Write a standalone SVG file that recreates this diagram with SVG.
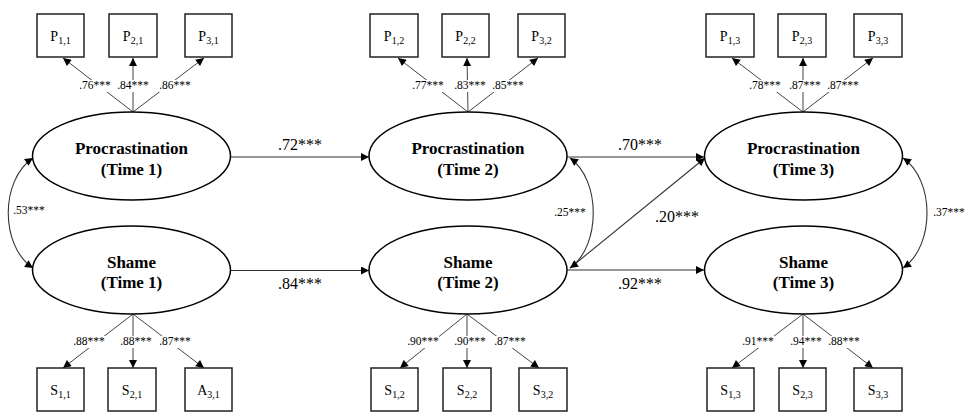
<svg xmlns="http://www.w3.org/2000/svg" width="965" height="412" viewBox="0 0 965 412" font-family="'Liberation Serif', 'Times New Roman', serif">
  <style>
    text { font-family: "Liberation Serif", "Times New Roman", serif; fill: #000; }
    .box { fill: #fff; stroke: #222; stroke-width: 1.5; }
    .ind { font-size: 14px; text-anchor: middle; }
    .sub { font-size: 10px; }
    .lat { fill: #fff; stroke: #000; stroke-width: 1.5; }
    .latt { font-size: 17px; font-weight: bold; text-anchor: middle; }
    .ld { stroke: #444; stroke-width: 1; fill: none; }
    .path { stroke: #333; stroke-width: 1.1; fill: none; }
    .bg { fill: #fff; }
    .sm { font-size: 11.5px; text-anchor: middle; }
    .big { font-size: 16px; text-anchor: middle; }
  </style>
  <defs>
    <marker id="ah" viewBox="0 0 10 10" refX="10" refY="5" markerWidth="9" markerHeight="8" markerUnits="userSpaceOnUse" orient="auto-start-reverse">
      <path d="M0,0 L10,5 L0,10 z" fill="#000"/>
    </marker>
  </defs>

  <!-- connectors: factor loadings, regressions, covariances -->
  <g id="connectors">
    <!-- loadings, time 1 -->
    <line class="ld" x1="133" y1="112" x2="63" y2="58" marker-end="url(#ah)"/>
    <line class="ld" x1="133" y1="112" x2="133" y2="58" marker-end="url(#ah)"/>
    <line class="ld" x1="133" y1="112" x2="204" y2="58" marker-end="url(#ah)"/>
    <line class="ld" x1="133" y1="314" x2="63" y2="368" marker-end="url(#ah)"/>
    <line class="ld" x1="133" y1="314" x2="133" y2="368" marker-end="url(#ah)"/>
    <line class="ld" x1="133" y1="314" x2="204" y2="368" marker-end="url(#ah)"/>
    <!-- loadings, time 2 -->
    <line class="ld" x1="468" y1="112" x2="398" y2="58" marker-end="url(#ah)"/>
    <line class="ld" x1="468" y1="112" x2="467" y2="58" marker-end="url(#ah)"/>
    <line class="ld" x1="468" y1="112" x2="538" y2="58" marker-end="url(#ah)"/>
    <line class="ld" x1="467" y1="314" x2="400" y2="368" marker-end="url(#ah)"/>
    <line class="ld" x1="467" y1="314" x2="467" y2="368" marker-end="url(#ah)"/>
    <line class="ld" x1="467" y1="314" x2="539" y2="368" marker-end="url(#ah)"/>
    <!-- loadings, time 3 -->
    <line class="ld" x1="803" y1="112" x2="732" y2="58" marker-end="url(#ah)"/>
    <line class="ld" x1="803" y1="112" x2="803" y2="58" marker-end="url(#ah)"/>
    <line class="ld" x1="803" y1="112" x2="873" y2="58" marker-end="url(#ah)"/>
    <line class="ld" x1="803" y1="314" x2="732" y2="368" marker-end="url(#ah)"/>
    <line class="ld" x1="803" y1="314" x2="803" y2="368" marker-end="url(#ah)"/>
    <line class="ld" x1="803" y1="314" x2="873" y2="368" marker-end="url(#ah)"/>

    <!-- structural paths -->
    <line class="path" x1="231" y1="157" x2="369" y2="157" marker-end="url(#ah)"/>
    <line class="path" x1="231" y1="270.5" x2="369" y2="270.5" marker-end="url(#ah)"/>
    <line class="path" x1="567" y1="157" x2="704" y2="157" marker-end="url(#ah)"/>
    <line class="path" x1="567" y1="270" x2="704" y2="270" marker-end="url(#ah)"/>
    <line class="path" x1="570" y1="268" x2="705" y2="158" marker-end="url(#ah)"/>

    <!-- covariances -->
    <path class="path" d="M33,158 C0,180 0,246 33,268" marker-start="url(#ah)" marker-end="url(#ah)"/>
    <path class="path" d="M570,158 C601,180 601,246 570,268" marker-start="url(#ah)" marker-end="url(#ah)"/>
    <path class="path" d="M903,158 C935,180 935,246 903,268" marker-start="url(#ah)" marker-end="url(#ah)"/>

    <!-- white backing behind loading labels -->
    <rect class="bg" x="79" y="80" width="32" height="12"/>
    <rect class="bg" x="117" y="80" width="32" height="12"/>
    <rect class="bg" x="159" y="80" width="32" height="12"/>
    <rect class="bg" x="412" y="80" width="32" height="12"/>
    <rect class="bg" x="454" y="80" width="32" height="12"/>
    <rect class="bg" x="492" y="80" width="32" height="12"/>
    <rect class="bg" x="749" y="80" width="32" height="12"/>
    <rect class="bg" x="789" y="80" width="32" height="12"/>
    <rect class="bg" x="827" y="80" width="32" height="12"/>
    <rect class="bg" x="73" y="336" width="32" height="12"/>
    <rect class="bg" x="120" y="336" width="32" height="12"/>
    <rect class="bg" x="159" y="336" width="32" height="12"/>
    <rect class="bg" x="407" y="336" width="32" height="12"/>
    <rect class="bg" x="454" y="336" width="32" height="12"/>
    <rect class="bg" x="494" y="336" width="32" height="12"/>
    <rect class="bg" x="742" y="336" width="32" height="12"/>
    <rect class="bg" x="790" y="336" width="32" height="12"/>
    <rect class="bg" x="828" y="336" width="32" height="12"/>

    <!-- coefficient labels -->
    <text class="sm" x="95" y="89">.76***</text>
    <text class="sm" x="133" y="89">.84***</text>
    <text class="sm" x="175" y="89">.86***</text>
    <text class="sm" x="428" y="89">.77***</text>
    <text class="sm" x="470" y="89">.83***</text>
    <text class="sm" x="508" y="89">.85***</text>
    <text class="sm" x="765" y="89">.78***</text>
    <text class="sm" x="805" y="89">.87***</text>
    <text class="sm" x="843" y="89">.87***</text>

    <text class="sm" x="89" y="345">.88***</text>
    <text class="sm" x="136" y="345">.88***</text>
    <text class="sm" x="175" y="345">.87***</text>
    <text class="sm" x="423" y="345">.90***</text>
    <text class="sm" x="470" y="345">.90***</text>
    <text class="sm" x="510" y="345">.87***</text>
    <text class="sm" x="758" y="345">.91***</text>
    <text class="sm" x="806" y="345">.94***</text>
    <text class="sm" x="844" y="345">.88***</text>

    <text class="sm" x="29" y="214">.53***</text>
    <text class="sm" x="570" y="216">.25***</text>
    <text class="sm" x="949" y="216">.37***</text>

    <text class="big" x="300" y="150">.72***</text>
    <text class="big" x="300" y="289">.84***</text>
    <text class="big" x="640" y="150">.70***</text>
    <text class="big" x="677" y="222">.20***</text>
    <text class="big" x="640" y="289">.92***</text>
  </g>

  <!-- latent variables -->
  <g id="proc1"><ellipse class="lat" cx="131.5" cy="156" rx="99" ry="44"/>
    <text class="latt" x="131.5" y="154">Procrastination</text><text class="latt" x="131.5" y="175">(Time 1)</text></g>
  <g id="proc2"><ellipse class="lat" cx="468" cy="156" rx="99" ry="44"/>
    <text class="latt" x="468" y="154">Procrastination</text><text class="latt" x="468" y="175">(Time 2)</text></g>
  <g id="proc3"><ellipse class="lat" cx="803.5" cy="156" rx="99" ry="44"/>
    <text class="latt" x="803.5" y="154">Procrastination</text><text class="latt" x="803.5" y="175">(Time 3)</text></g>
  <g id="shame1"><ellipse class="lat" cx="131.5" cy="270" rx="99" ry="44"/>
    <text class="latt" x="131.5" y="268">Shame</text><text class="latt" x="131.5" y="288">(Time 1)</text></g>
  <g id="shame2"><ellipse class="lat" cx="468" cy="270" rx="99" ry="44"/>
    <text class="latt" x="468" y="268">Shame</text><text class="latt" x="468" y="288">(Time 2)</text></g>
  <g id="shame3"><ellipse class="lat" cx="803.5" cy="270" rx="99" ry="44"/>
    <text class="latt" x="803.5" y="268">Shame</text><text class="latt" x="803.5" y="288">(Time 3)</text></g>

  <!-- observed indicators: procrastination -->
  <g id="p11"><rect class="box" x="37" y="14" width="47" height="43"/><text class="ind" x="60.5" y="41">P<tspan class="sub" dy="3">1,1</tspan></text></g>
  <g id="p21"><rect class="box" x="109" y="14" width="48" height="43"/><text class="ind" x="133" y="41">P<tspan class="sub" dy="3">2,1</tspan></text></g>
  <g id="p31"><rect class="box" x="185" y="14" width="47" height="43"/><text class="ind" x="208.5" y="41">P<tspan class="sub" dy="3">3,1</tspan></text></g>
  <g id="p12"><rect class="box" x="370" y="14" width="48" height="43"/><text class="ind" x="394" y="41">P<tspan class="sub" dy="3">1,2</tspan></text></g>
  <g id="p22"><rect class="box" x="442" y="14" width="47" height="43"/><text class="ind" x="465.5" y="41">P<tspan class="sub" dy="3">2,2</tspan></text></g>
  <g id="p32"><rect class="box" x="518" y="14" width="47" height="43"/><text class="ind" x="541.5" y="41">P<tspan class="sub" dy="3">3,2</tspan></text></g>
  <g id="p13"><rect class="box" x="706" y="14" width="48" height="43"/><text class="ind" x="730" y="41">P<tspan class="sub" dy="3">1,3</tspan></text></g>
  <g id="p23"><rect class="box" x="778" y="14" width="48" height="43"/><text class="ind" x="802" y="41">P<tspan class="sub" dy="3">2,3</tspan></text></g>
  <g id="p33"><rect class="box" x="854" y="14" width="48" height="43"/><text class="ind" x="878" y="41">P<tspan class="sub" dy="3">3,3</tspan></text></g>

  <!-- observed indicators: shame -->
  <g id="s11"><rect class="box" x="37" y="368" width="47" height="43"/><text class="ind" x="60.5" y="395">S<tspan class="sub" dy="3">1,1</tspan></text></g>
  <g id="s21"><rect class="box" x="108" y="368" width="48" height="43"/><text class="ind" x="132" y="395">S<tspan class="sub" dy="3">2,1</tspan></text></g>
  <g id="a31"><rect class="box" x="185" y="368" width="47" height="43"/><text class="ind" x="208.5" y="395">A<tspan class="sub" dy="3">3,1</tspan></text></g>
  <g id="s12"><rect class="box" x="371" y="368" width="47" height="43"/><text class="ind" x="394.5" y="395">S<tspan class="sub" dy="3">1,2</tspan></text></g>
  <g id="s22"><rect class="box" x="443" y="368" width="48" height="43"/><text class="ind" x="467" y="395">S<tspan class="sub" dy="3">2,2</tspan></text></g>
  <g id="s32"><rect class="box" x="519" y="368" width="48" height="43"/><text class="ind" x="543" y="395">S<tspan class="sub" dy="3">3,2</tspan></text></g>
  <g id="s13"><rect class="box" x="707" y="368" width="47" height="43"/><text class="ind" x="730.5" y="395">S<tspan class="sub" dy="3">1,3</tspan></text></g>
  <g id="s23"><rect class="box" x="779" y="368" width="47" height="43"/><text class="ind" x="802.5" y="395">S<tspan class="sub" dy="3">2,3</tspan></text></g>
  <g id="s33"><rect class="box" x="854" y="368" width="48" height="43"/><text class="ind" x="878" y="395">S<tspan class="sub" dy="3">3,3</tspan></text></g>
</svg>
